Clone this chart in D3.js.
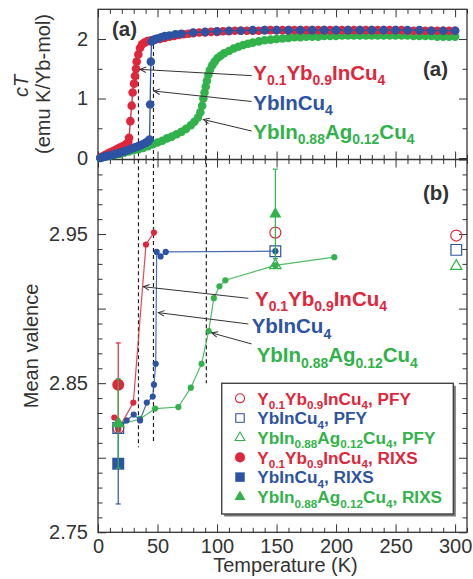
<!DOCTYPE html>
<html>
<head>
<meta charset="utf-8">
<script src="https://cdn.jsdelivr.net/npm/d3@7"></script>
<style>
  body { margin: 0; background: #fff; }
  svg text { font-family: "Liberation Sans", Arial, Helvetica, sans-serif; }
</style>
</head>
<body>
<div id="chart"></div>
<script>
// ---- data ----
// panel (a): chi*T vs temperature, [T (K), chiT]
const chiRed = [[2,0.01],[4,0.03],[6,0.05],[8,0.07],[10,0.09],[12,0.11],[14,0.13],[16,0.15],[18,0.17],[20,0.19],[22,0.21],[24,0.24],[25.5,0.27],
  [26.1,0.34],[27.2,0.62],[28.3,0.88],[29.1,1.1],[30.3,1.25],[31.1,1.38],[31.9,1.5],[32.5,1.62],[33.9,1.74],[35.3,1.85],[37,1.91],[39,1.94],[41,1.96],[43,1.97],[45,1.98],[48,1.99],
  [52,2.0],[56,2.02],[60,2.04],[64,2.05],[68,2.07],[72,2.08],[76,2.09],[80,2.1],[85,2.11],[90,2.11],[95,2.12],[100,2.12],[105,2.13],[110,2.13],[115,2.14],[120,2.14],[125,2.14],[130,2.14],[135,2.14],
  [140,2.15],[145,2.15],[150,2.15],[155,2.15],[160,2.15],[165,2.15],[170,2.15],[175,2.15],[180,2.15],[185,2.15],[190,2.15],[195,2.15],[200,2.15],[205,2.15],[210,2.15],[215,2.15],[220,2.15],
  [225,2.15],[230,2.15],[235,2.15],[240,2.15],[245,2.15],[250,2.15],[255,2.15],[260,2.14],[265,2.14],[270,2.14],[275,2.14],[280,2.14],[285,2.14],[290,2.14],[295,2.14],[300,2.14]];
const chiBlue = [[2,0.0],[4,0.015],[6,0.025],[8,0.035],[10,0.045],[12,0.055],[14,0.065],[16,0.075],[18,0.085],[20,0.1],[22,0.11],[24,0.125],[26,0.14],[28,0.155],[30,0.17],[32,0.185],[34,0.2],[36,0.215],[38,0.235],[40,0.255],[42,0.28],[43.3,0.31],
  [43.8,0.9],[44.4,1.62],[45,1.96],[46.5,1.98],[48,2.0],[50,2.01],[53,2.03],[56,2.05],[60,2.06],[65,2.08],[70,2.09],[80,2.11],[90,2.12],[100,2.13],[110,2.14],[120,2.14],[130,2.15],
  [140,2.15],[150,2.15],[160,2.15],[170,2.15],[180,2.15],[190,2.15],[200,2.15],[210,2.15],[220,2.15],[230,2.15],[240,2.15],[250,2.15],[260,2.15],[270,2.15],[280,2.14],[290,2.14],[300,2.14]];
const chiGreen = [[2,0.0],[6,0.02],[10,0.035],[14,0.05],[18,0.07],[22,0.09],[26,0.11],[30,0.13],[34,0.15],[38,0.17],[42,0.2],[46,0.23],[50,0.26],[54,0.29],[58,0.33],[62,0.36],[66,0.4],[70,0.44],[74,0.49],[78,0.55],[81,0.61],[84,0.68],
  [86,0.77],[87.5,0.88],[88.5,1.0],[89.5,1.1],[90.5,1.2],[91.5,1.3],[92.7,1.4],[94,1.48],[96,1.56],[98,1.62],[100.5,1.68],[103,1.72],[106,1.76],[110,1.8],[114,1.84],[118,1.87],[122,1.9],[126,1.92],[130,1.94],[135,1.96],
  [140,1.98],[145,1.99],[150,2.0],[155,2.01],[160,2.02],[165,2.03],[170,2.03],[175,2.04],[180,2.04],[185,2.04],[190,2.05],[195,2.05],[200,2.05],[205,2.06],[210,2.06],[215,2.06],[220,2.06],[225,2.06],[230,2.06],
  [235,2.06],[240,2.06],[245,2.06],[250,2.06],[255,2.06],[260,2.06],[265,2.05],[270,2.05],[275,2.05],[280,2.05],[285,2.04],[290,2.04],[295,2.04],[300,2.04]];

// panel (b): mean valence, [T (K), valence]
const valRed = [[13.7,2.827],[17,2.819],[29.7,2.837],[40.3,2.943],[47,2.951]];
const valBlue = [[17,2.82],[24,2.825],[30,2.829],[35.3,2.825],[41,2.837],[46,2.841],[47,2.849],[48.5,2.863],[49.3,2.938],[52.6,2.935],[56.9,2.938],[149,2.9385]];
const valGreen = [[17,2.822],[35.3,2.826],[48,2.833],[67.5,2.834],[78,2.847],[87,2.863],[93,2.885],[97.3,2.907],[102,2.915],[107,2.919],[149,2.929],[198.5,2.9345]];
// PFY (open symbols)
const pfyT = [17, 149, 301];
const pfyRed = [2.82, 2.951, 2.949];
const pfyBlue = [2.82, 2.9385, 2.9394];
const pfyGreen = [2.823, 2.929, 2.9285];
// RIXS (filled symbols), [T, valence, error]
const rixsRed = [[17, 2.849, 0.028]];
const rixsBlue = [[17, 2.796, 0.027]];
const rixsGreen = [[17, 2.823, 0.03], [149, 2.9635, 0.03]];

// valence transition temperatures marked with dashed lines: [T, chiT top end, valence bottom end]
const transitions = [[34, 1.51, 2.807], [46.6, 1.9, 2.81], [91, 0.62, 2.85]];

const compounds = ["Y_{0.1}Yb_{0.9}InCu_{4}", "YbInCu_{4}", "YbIn_{0.88}Ag_{0.12}Cu_{4}"];
const colors = ["#e0263b", "#2d53a3", "#32b24a"];

const xTicks = [0, 50, 100, 150, 200, 250, 300];
const yTicksA = [0, 1, 2];
const yTicksB = [2.75, 2.85, 2.95];

// ---- layout ----
const W = 473, H = 579;
const pL = 98, pR = 467, pT = 9.3, pM = 159.5, pB = 532.3;
const ink = "#333";

const x = d3.scaleLinear().domain([0, 310]).range([pL, pR]);
const yA = d3.scaleLinear().domain([-0.025, 2.5]).range([pM, pT]);
const yB = d3.scaleLinear().domain([2.75, 3.0]).range([pB, pM]);

const svg = d3.select("#chart").append("svg")
    .attr("width", W)
    .attr("height", H);

const defs = svg.append("defs");
defs.append("marker")
    .attr("id", "arrow")
    .attr("viewBox", "-8 -5 10 10")
    .attr("refX", 0).attr("refY", 0)
    .attr("markerWidth", 10).attr("markerHeight", 10)
    .attr("markerUnits", "userSpaceOnUse")
    .attr("orient", "auto")
    .append("path")
    .attr("d", "M-6,-2.8L0,0L-6,2.8")
    .attr("fill", "none")
    .attr("stroke", ink)
    .attr("stroke-width", 1);

// text with subscripts written as _{...}
function rich(sel, label, size) {
    const parts = label.split(/_\{([^}]*)\}/);
    let shift = 0;
    parts.forEach((p, i) => {
        if (!p) return;
        const sub = i % 2 === 1;
        const target = sub ? size * 0.26 : 0;
        sel.append("tspan")
            .attr("dy", target - shift)
            .attr("font-size", sub ? size * 0.68 : size)
            .text(p);
        shift = target;
    });
    return sel;
}

// ---- ticks (all pointing inward) ----
const xMinor = d3.range(0, 311, 10).filter(v => v % 50 !== 0);
function ticks(g, axis, values, len) {
    g.call(axis.tickValues(values).tickSize(-len).tickFormat(""))
        .call(a => a.select(".domain").remove())
        .call(a => a.selectAll("line").attr("stroke", ink).attr("stroke-width", 1));
}
function tickPair(axis, major, minor, pos, horizontal) {
    const tr = horizontal ? `translate(0,${pos})` : `translate(${pos},0)`;
    svg.append("g").attr("transform", tr).call(g => ticks(g, axis(), major, 8));
    svg.append("g").attr("transform", tr).call(g => ticks(g, axis(), minor, 4.5));
}
// x ticks on every horizontal border
tickPair(() => d3.axisTop(x), xTicks, xMinor, pT, true);
tickPair(() => d3.axisBottom(x), xTicks, xMinor, pM, true);
tickPair(() => d3.axisTop(x), xTicks, xMinor, pM, true);
tickPair(() => d3.axisBottom(x), xTicks, xMinor, pB, true);
// y ticks panel (a)
tickPair(() => d3.axisLeft(yA), yTicksA, [0.5, 1.5], pL, false);
tickPair(() => d3.axisRight(yA), yTicksA, [0.5, 1.5], pR, false);
// y ticks panel (b)
const yMajorB = [2.8, 2.9, 3.0].concat(yTicksB);
const yMinorB = d3.range(2.76, 3.0, 0.01).filter(v => Math.abs(v * 20 - Math.round(v * 20)) > 0.01);
tickPair(() => d3.axisLeft(yB), yMajorB, yMinorB, pL, false);
tickPair(() => d3.axisRight(yB), yMajorB, yMinorB, pR, false);

// frames
svg.append("rect").attr("x", pL).attr("y", pT).attr("width", pR - pL).attr("height", pB - pT)
    .attr("fill", "none").attr("stroke", ink).attr("stroke-width", 1.3);
svg.append("line").attr("x1", pL).attr("x2", pR).attr("y1", pM).attr("y2", pM)
    .attr("stroke", ink).attr("stroke-width", 1.3);

// tick labels
const labelStyle = g => g.call(a => a.select(".domain").remove())
    .call(a => a.selectAll("line").remove())
    .call(a => a.selectAll("text").attr("font-size", 20).attr("fill", ink))
    .attr("font-family", null);
svg.append("g").attr("transform", `translate(0,${pB})`)
    .call(d3.axisBottom(x).tickValues(xTicks).tickSize(0).tickPadding(6.5))
    .call(labelStyle);
svg.append("g").attr("transform", `translate(${pL},0)`)
    .call(d3.axisLeft(yA).tickValues(yTicksA).tickSize(0).tickPadding(10).tickFormat(d3.format("d")))
    .call(labelStyle);
svg.append("g").attr("transform", `translate(${pL},0)`)
    .call(d3.axisLeft(yB).tickValues(yTicksB).tickSize(0).tickPadding(10).tickFormat(d3.format(".2f")))
    .call(labelStyle);

// axis titles
svg.append("text")
    .attr("x", (pL + pR) / 2 + 3).attr("y", 571.5)
    .attr("text-anchor", "middle").attr("font-size", 20).attr("fill", ink)
    .text("Temperature (K)");
svg.append("text")
    .attr("transform", `translate(38,${(pM + pB) / 2}) rotate(-90)`)
    .attr("text-anchor", "middle").attr("font-size", 20).attr("fill", ink)
    .text("Mean valence");
svg.append("text")
    .attr("transform", `translate(28,86) rotate(-90)`)
    .attr("text-anchor", "middle").attr("font-size", 20).attr("fill", ink)
    .attr("font-style", "italic")
    .text("cT");
svg.append("text")
    .attr("transform", `translate(50,84) rotate(-90)`)
    .attr("text-anchor", "middle").attr("font-size", 20).attr("fill", ink)
    .text("(emu K/Yb-mol)");

// ---- dashed transition lines ----
svg.append("g").selectAll("line")
    .data(transitions)
    .enter().append("line")
    .attr("x1", d => x(d[0])).attr("x2", d => x(d[0]))
    .attr("y1", d => yA(d[1])).attr("y2", d => yB(d[2]))
    .attr("stroke", "#222").attr("stroke-width", 1.2)
    .attr("stroke-dasharray", "4,3");

// ---- panel (a) curves ----
const lineA = d3.line().x(d => x(d[0])).y(d => yA(d[1]));
[[chiGreen, 2], [chiRed, 0], [chiBlue, 1]].forEach(([data, k]) => {
    const g = svg.append("g");
    g.append("path").datum(data)
        .attr("d", lineA)
        .attr("fill", "none").attr("stroke", colors[k]).attr("stroke-width", 1.3);
    g.selectAll("circle").data(data).enter().append("circle")
        .attr("cx", d => x(d[0])).attr("cy", d => yA(d[1]))
        .attr("r", 4.3).attr("fill", colors[k]);
});

// ---- panel (b) ----
const lineB = d3.line().x(d => x(d[0])).y(d => yB(d[1]));
[[valGreen, 2], [valBlue, 1], [valRed, 0]].forEach(([data, k]) => {
    const g = svg.append("g");
    g.append("path").datum(data)
        .attr("d", lineB)
        .attr("fill", "none").attr("stroke", colors[k]).attr("stroke-width", 1.2)
        .attr("stroke-opacity", 0.85);
    g.selectAll("circle").data(data).enter().append("circle")
        .attr("cx", d => x(d[0])).attr("cy", d => yB(d[1]))
        .attr("r", 3.1).attr("fill", colors[k]);
});

// PFY open symbols
const symTypes = [d3.symbolCircle, d3.symbolSquare, d3.symbolTriangle];
const openSizes = [95, 115, 55];
[pfyRed, pfyBlue, pfyGreen].forEach((vals, k) => {
    svg.append("g").selectAll("path")
        .data(vals.map((v, i) => [pfyT[i], v]))
        .enter().append("path")
        .attr("transform", d => `translate(${x(d[0])},${yB(d[1])})`)
        .attr("d", d3.symbol().type(symTypes[k]).size(openSizes[k]))
        .attr("fill", "none").attr("stroke", colors[k]).attr("stroke-width", 1.2);
});

// RIXS filled symbols with error bars
const fillSizes = [113, 144, 62];
[[rixsBlue, 1], [rixsRed, 0], [rixsGreen, 2]].forEach(([data, k]) => {
    const g = svg.append("g");
    g.selectAll("line.err").data(data).enter().append("line")
        .attr("x1", d => x(d[0])).attr("x2", d => x(d[0]))
        .attr("y1", d => yB(d[1] - d[2])).attr("y2", d => yB(d[1] + d[2]))
        .attr("stroke", colors[k]).attr("stroke-width", 1.2);
    [-1, 1].forEach(s => {
        g.selectAll(null).data(data).enter().append("line")
            .attr("x1", d => x(d[0]) - 2.5).attr("x2", d => x(d[0]) + 2.5)
            .attr("y1", d => yB(d[1] + s * d[2])).attr("y2", d => yB(d[1] + s * d[2]))
            .attr("stroke", colors[k]).attr("stroke-width", 1.2);
    });
    g.selectAll("path").data(data).enter().append("path")
        .attr("transform", d => `translate(${x(d[0])},${yB(d[1])})`)
        .attr("d", d3.symbol().type(symTypes[k]).size(fillSizes[k]))
        .attr("fill", colors[k]);
});

// ---- annotations ----
const annotA = [
    { tail: [129.1, 1.385], head: [35.3, 1.49], text: [130.5, 1.311] },
    { tail: [129.1, 0.95], head: [47.0, 1.126], text: [130.5, 0.807] },
    { tail: [129.1, 0.454], head: [88.5, 0.647], text: [130.5, 0.319] }
];
const annotB = [
    { tail: [126.3, 2.9069], head: [38.1, 2.9147], text: [131.9, 2.9018] },
    { tail: [126.3, 2.8897], head: [50.7, 2.8973], text: [129.1, 2.8835] },
    { tail: [129.1, 2.8763], head: [95.5, 2.8837], text: [133.3, 2.864] }
];
[[annotA, yA], [annotB, yB]].forEach(([list, y]) => {
    list.forEach((a, k) => {
        svg.append("line")
            .attr("x1", x(a.tail[0])).attr("y1", y(a.tail[1]))
            .attr("x2", x(a.head[0])).attr("y2", y(a.head[1]))
            .attr("stroke", ink).attr("stroke-width", 1)
            .attr("marker-end", "url(#arrow)");
        const t = svg.append("text")
            .attr("x", x(a.text[0])).attr("y", y(a.text[1]))
            .attr("font-weight", "bold").attr("fill", colors[k]);
        rich(t, compounds[k], 20.5);
    });
});

// panel labels
[["(a)", 11.8, 2.05, yA], ["(a)", 273, 1.38, yA], ["(b)", 273, 2.973, yB]].forEach(([s, t, v, y]) => {
    svg.append("text").attr("x", x(t)).attr("y", y(v))
        .attr("font-size", 20.5).attr("font-weight", "bold").attr("fill", ink)
        .text(s);
});

// ---- legend ----
const lg = { x: 221.7, y: 383.3, w: 231.6, h: 130.7 };
svg.append("rect").attr("x", lg.x + 2.5).attr("y", lg.y + 2.5).attr("width", lg.w).attr("height", lg.h)
    .attr("fill", "#777");
svg.append("rect").attr("x", lg.x).attr("y", lg.y).attr("width", lg.w).attr("height", lg.h)
    .attr("fill", "#fff").attr("stroke", "#444").attr("stroke-width", 1.4);

const legendItems = [];
["PFY", "RIXS"].forEach(method => {
    compounds.forEach((c, k) => legendItems.push({ k, method, label: `${c}, ${method}` }));
});
const legend = svg.append("g").selectAll("g")
    .data(legendItems)
    .enter().append("g")
    .attr("transform", (d, i) => `translate(${lg.x + 18.3},${lg.y + 15 + i * 19.7})`);
legend.append("path")
    .attr("d", d => d3.symbol().type(symTypes[d.k]).size(d.method === "PFY" ? [64, 72, 42][d.k] : [80, 90, 52][d.k])())
    .attr("fill", d => d.method === "PFY" ? "none" : colors[d.k])
    .attr("stroke", d => d.method === "PFY" ? colors[d.k] : "none")
    .attr("stroke-width", 1.1);
legend.append("text")
    .attr("x", 17.3).attr("y", 6.3)
    .attr("font-weight", "bold")
    .attr("fill", d => colors[d.k])
    .each(function(d) { rich(d3.select(this), d.label, 17.2); });
</script>
</body>
</html>
